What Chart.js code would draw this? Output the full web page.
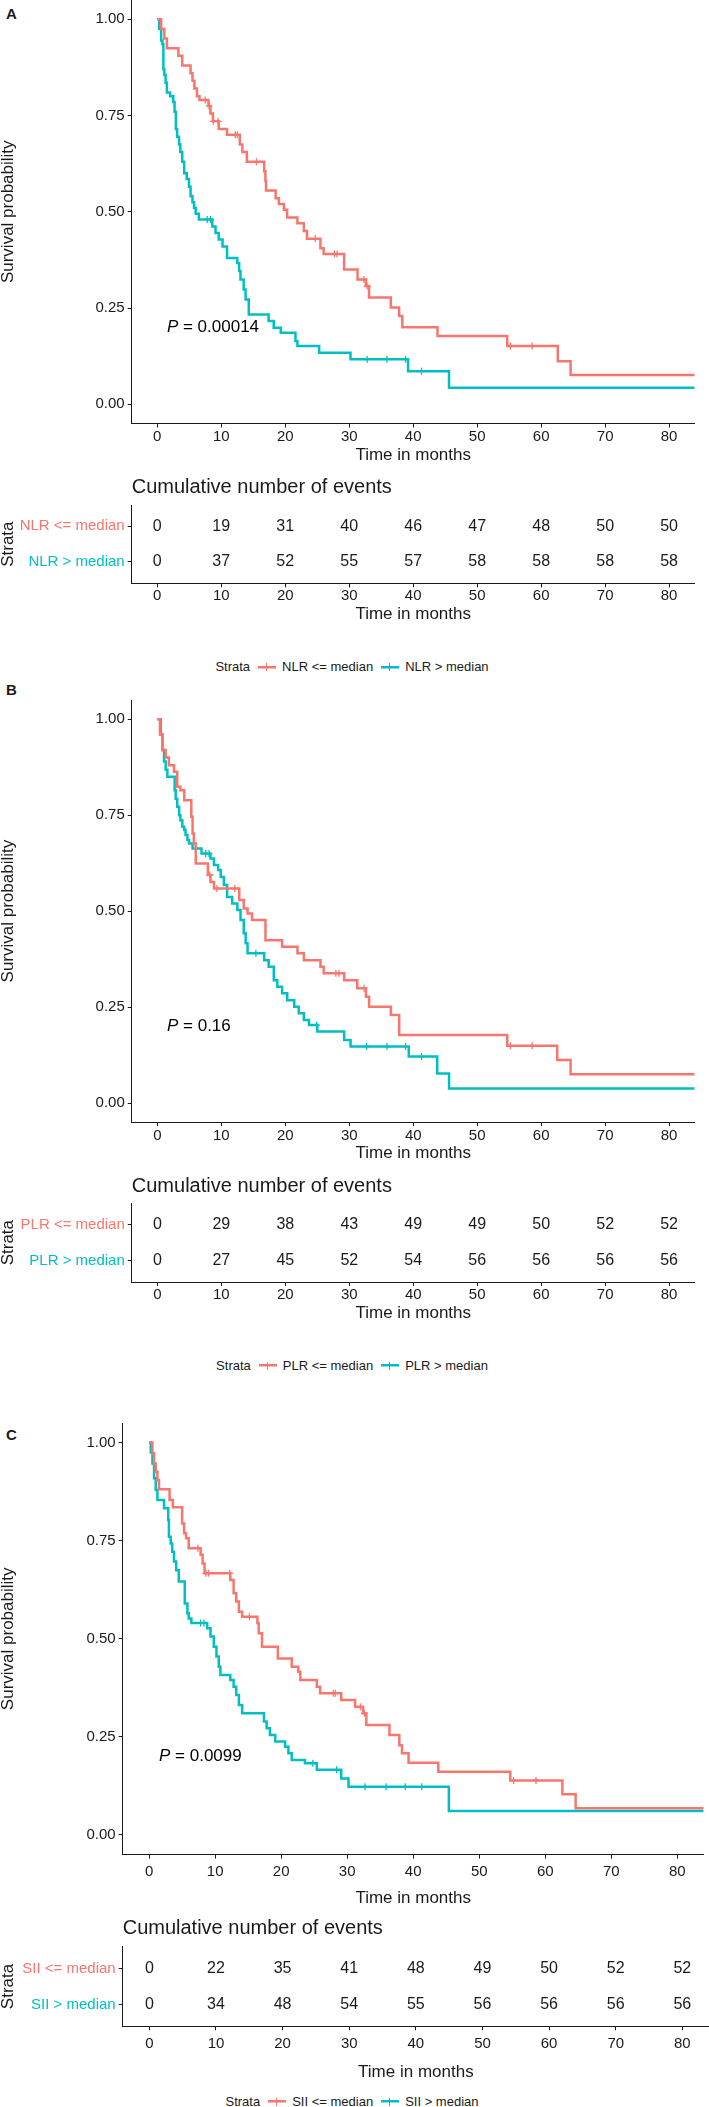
<!DOCTYPE html>
<html>
<head>
<meta charset="utf-8">
<script src="https://cdn.jsdelivr.net/npm/chart.js@4"></script>
<style>
  body { margin: 0; width: 709px; height: 2107px; position: relative; background: #fff; overflow: hidden;
         font-family: "Liberation Sans", Arial, sans-serif; color: #1a1a1a; }
  canvas { position: absolute; left: 0; }
  .letter { position: absolute; left: 6px; font-weight: bold; font-size: 15px; line-height: 18px; }
  .legend { position: absolute; left: 0; width: 704px; text-align: center; font-size: 13px; line-height: 20px; white-space: nowrap; }
  .key { display: inline-block; width: 18px; height: 12px; vertical-align: -2px; margin: 0 6px 0 8px; }
</style>
</head>
<body>
<div class="letter" id="letterA">A</div>
<canvas id="kmA"></canvas><canvas id="tabA"></canvas>
<div class="legend" id="legA"></div>
<div class="letter" id="letterB">B</div>
<canvas id="kmB"></canvas><canvas id="tabB"></canvas>
<div class="legend" id="legB"></div>
<div class="letter" id="letterC">C</div>
<canvas id="kmC"></canvas><canvas id="tabC"></canvas>
<div class="legend" id="legC"></div>

<script>
// ---- data ----
const timeTicks = [0, 10, 20, 30, 40, 50, 60, 70, 80];
const survTicks = [0, 0.25, 0.5, 0.75, 1];

// A: NLR   (time in months, survival probability)
const nlrLow = [[0,1],[0.6,0.975],[1.1,0.95],[1.5,0.925],[3.3,0.905],[3.9,0.88],[5.2,0.86],[5.5,0.84],[5.8,0.82],[6.2,0.8],[6.6,0.79],[8.0,0.775],[8.3,0.755],[8.7,0.735],[9.6,0.715],[10.9,0.7],[12.9,0.675],[13.3,0.655],[14.0,0.63],[16.7,0.605],[16.9,0.58],[17.0,0.555],[18.5,0.535],[19.0,0.52],[19.8,0.505],[20.3,0.485],[21.9,0.47],[22.9,0.45],[23.4,0.43],[25.5,0.405],[26.0,0.39],[29.2,0.35],[31.3,0.324],[32.6,0.307],[33.1,0.277],[36.5,0.251],[37.8,0.229],[38.3,0.2],[43.8,0.177],[54.7,0.151],[62.6,0.112],[64.6,0.076],[84,0.076]];
const nlrLowCensor = [7.5, 8.1, 8.75, 9.5, 12.2, 12.5, 15.5, 24.7, 27.7, 28.1, 32.3, 32.8, 55.2, 58.6];
const nlrHigh = [[0,1],[0.3,0.975],[0.6,0.945],[0.8,0.935],[0.95,0.87],[1.1,0.855],[1.3,0.835],[1.5,0.81],[2.0,0.8],[2.5,0.785],[2.7,0.76],[2.9,0.715],[3.1,0.695],[3.4,0.675],[3.6,0.655],[3.9,0.63],[4.2,0.6],[4.6,0.585],[4.95,0.565],[5.2,0.54],[5.5,0.525],[5.75,0.51],[6.0,0.495],[6.5,0.48],[8.6,0.462],[9.1,0.445],[9.6,0.428],[10.2,0.41],[10.9,0.38],[12.5,0.367],[12.8,0.346],[13.0,0.324],[13.5,0.298],[13.8,0.272],[14.3,0.233],[17.4,0.216],[18.2,0.199],[19.3,0.186],[21.6,0.164],[21.9,0.151],[25.3,0.134],[30.2,0.117],[39.2,0.086],[45.6,0.043],[84,0.043]];
const nlrHighCensor = [7.8, 8.3, 32.8, 35.9, 38.8, 41.3];
const nlrLowEvents = [0, 19, 31, 40, 46, 47, 48, 50, 50];
const nlrHighEvents = [0, 37, 52, 55, 57, 58, 58, 58, 58];

// B: PLR
const plrLow = [[0,1],[0.4,0.96],[0.8,0.92],[1.3,0.9],[1.8,0.88],[2.6,0.863],[3.1,0.824],[3.6,0.815],[4.2,0.789],[5.3,0.746],[5.5,0.702],[5.7,0.676],[6.0,0.624],[7.9,0.594],[8.3,0.576],[8.85,0.559],[12.8,0.529],[13.5,0.507],[14.1,0.494],[14.8,0.477],[16.9,0.424],[19.5,0.407],[21.9,0.39],[22.9,0.372],[25.5,0.355],[26.0,0.338],[29.2,0.32],[31.25,0.299],[32.6,0.277],[33.1,0.251],[36.5,0.229],[37.8,0.177],[54.7,0.149],[62.5,0.112],[64.6,0.075],[84,0.075]];
const plrLowCensor = [8.2, 9.3, 12.1, 27.9, 28.4, 32.3, 55.2, 58.6];
const plrHigh = [[0,1],[0.52,0.96],[0.78,0.92],[1.04,0.89],[1.3,0.868],[1.56,0.85],[2.7,0.815],[2.86,0.793],[3.1,0.772],[3.4,0.75],[3.6,0.737],[3.9,0.72],[4.2,0.711],[4.4,0.698],[4.7,0.685],[4.95,0.676],[5.5,0.663],[6.9,0.65],[8.3,0.637],[8.85,0.62],[9.5,0.607],[9.9,0.589],[10.4,0.568],[10.9,0.537],[11.7,0.52],[12.5,0.503],[13.0,0.477],[13.5,0.442],[13.8,0.416],[14.1,0.39],[16.7,0.372],[17.4,0.355],[18.2,0.32],[18.75,0.303],[19.5,0.286],[20.3,0.268],[21.4,0.251],[22.1,0.234],[22.9,0.216],[23.7,0.203],[25.0,0.186],[29.2,0.164],[30.2,0.147],[39.3,0.121],[43.75,0.077],[45.6,0.038],[84,0.038]];
const plrHighCensor = [7.55, 8.07, 15.4, 24.9, 32.7, 35.9, 38.8, 41.3];
const plrLowEvents = [0, 29, 38, 43, 49, 49, 50, 52, 52];
const plrHighEvents = [0, 27, 45, 52, 54, 56, 56, 56, 56];

// C: SII
const siiLow = [[0,1],[0.5,0.973],[0.75,0.947],[1.0,0.926],[1.26,0.905],[1.5,0.881],[3.1,0.854],[3.6,0.835],[5.0,0.794],[5.3,0.769],[5.6,0.756],[6.0,0.731],[7.8,0.714],[8.1,0.692],[8.4,0.667],[12.3,0.65],[12.8,0.616],[13.2,0.595],[13.6,0.569],[14.1,0.556],[16.4,0.54],[16.6,0.514],[17.1,0.48],[19.5,0.45],[21.6,0.429],[22.6,0.416],[22.9,0.395],[25.4,0.378],[25.9,0.361],[29.1,0.344],[31.2,0.327],[32.4,0.31],[32.9,0.28],[36.4,0.255],[37.9,0.229],[38.3,0.208],[39.3,0.184],[43.8,0.161],[54.7,0.139],[62.6,0.104],[64.6,0.068],[84,0.068]];
const siiLowCensor = [7.4, 8.6, 9.0, 12.2, 15.2, 27.9, 28.2, 32.0, 32.6, 55.2, 58.6];
const siiHigh = [[0,1],[0.25,0.975],[0.5,0.947],[0.75,0.909],[1.0,0.879],[1.26,0.854],[2.26,0.833],[2.9,0.803],[3.0,0.76],[3.27,0.743],[3.5,0.722],[3.77,0.697],[4.1,0.675],[4.5,0.646],[5.4,0.59],[5.8,0.565],[6.0,0.552],[6.4,0.54],[8.8,0.527],[9.3,0.506],[9.8,0.48],[10.2,0.455],[10.55,0.429],[10.8,0.408],[12.3,0.395],[12.8,0.378],[13.2,0.357],[13.6,0.331],[14.1,0.31],[17.4,0.289],[17.8,0.272],[18.3,0.255],[19.1,0.238],[20.6,0.225],[21.1,0.208],[21.6,0.191],[23.6,0.183],[25.4,0.166],[29.1,0.144],[30.2,0.123],[45.4,0.061],[84,0.061]];
const siiHighCensor = [7.8, 8.3, 24.8, 28.4, 32.7, 35.9, 38.8, 41.3];
const siiLowEvents = [0, 22, 35, 41, 48, 49, 50, 52, 52];
const siiHighEvents = [0, 34, 48, 54, 55, 56, 56, 56, 56];

const RED = "#F8766D";
const TEAL = "#00BFC4";
const INK = "#1a1a1a";
const FONT = '"Liberation Sans", Arial, sans-serif';
Chart.defaults.font.family = FONT;
Chart.defaults.color = INK;

// survival value of a step curve at time t (for placing censor marks)
function survAt(curve, t) {
  let s = curve[0][1];
  curve.forEach(([ct, cs]) => { if (ct <= t) s = cs; });
  return s;
}

function axisX(bottomPad, tickPad, height) {
  return {
    type: "linear", min: -4, max: 84,
    afterBuildTicks: (s) => { s.ticks = timeTicks.map((v) => ({ value: v })); },
    afterFit: (s) => { s.height = height; },
    grid: { drawOnChartArea: false, drawTicks: true, tickLength: 4, color: INK, lineWidth: 1 },
    border: { display: true, color: INK, width: 1 },
    ticks: { font: { size: 15, lineHeight: 1.2 }, color: INK, padding: tickPad, maxRotation: 0, autoSkip: false },
    title: { display: true, text: "Time in months", color: INK, font: { size: 17, lineHeight: 1.2 }, padding: { top: 0, bottom: bottomPad } },
  };
}

// P value text, placed in data units
const pvalPlugin = {
  id: "pval",
  afterDraw(chart, args, opts) {
    const ctx = chart.ctx;
    const x = chart.scales.x.getPixelForValue(1.5);
    const y = chart.scales.y.getPixelForValue(0.2);
    ctx.save();
    ctx.fillStyle = "#000";
    ctx.textBaseline = "middle";
    ctx.textAlign = "left";
    ctx.font = "italic 17px " + FONT;
    ctx.fillText("P", x, y);
    const w = ctx.measureText("P").width;
    ctx.font = "17px " + FONT;
    ctx.fillText(" = " + opts.text, x + w, y);
    ctx.restore();
  },
};

// numbers of the risk table, one per point
const countPlugin = {
  id: "counts",
  afterDatasetsDraw(chart) {
    const ctx = chart.ctx;
    ctx.save();
    ctx.fillStyle = INK;
    ctx.font = "16px " + FONT;
    ctx.textAlign = "center";
    ctx.textBaseline = "middle";
    chart.data.datasets.forEach((ds, di) => {
      chart.getDatasetMeta(di).data.forEach((pt, i) => {
        ctx.fillText(String(ds.counts[i]), pt.x, pt.y);
      });
    });
    ctx.restore();
  },
};

function kmChart(id, p) {
  const canvas = document.getElementById(id);
  const top = p.areaTop - 12;
  const bottom = p.xlabelY + 12;
  canvas.width = 709;
  canvas.height = Math.round(bottom - top);
  canvas.style.top = top + "px";

  const curveSet = (curve, censor, color) => [
    {
      data: curve.map(([x, y]) => ({ x, y })),
      borderColor: color, borderWidth: 2.5, stepped: true, pointRadius: 0, fill: false,
    },
    {
      data: censor.map((t) => ({ x: t, y: survAt(curve, t) })),
      showLine: false, pointStyle: "cross", pointRadius: 3.5, pointBorderWidth: 1.3,
      pointBorderColor: color, pointBackgroundColor: color,
    },
  ];

  new Chart(canvas.getContext("2d"), {
    type: "line",
    data: {
      datasets: [...curveSet(p.low, p.lowCensor, RED), ...curveSet(p.high, p.highCensor, TEAL)],
    },
    options: {
      responsive: false, animation: false, events: [],
      layout: { padding: { top: 12, left: 0, right: 709 - p.areaRight, bottom: 0 } },
      plugins: { legend: { display: false }, tooltip: { enabled: false }, pval: { text: p.pval } },
      scales: {
        x: axisX(12 - 10.2, p.tickY - p.areaBottom - 13, bottom - p.areaBottom),
        y: {
          type: "linear", min: -0.05, max: 1.05,
          afterBuildTicks: (s) => { s.ticks = survTicks.map((v) => ({ value: v })); },
          afterFit: (s) => { s.width = p.areaLeft; },
          grid: { drawOnChartArea: false, drawTicks: true, tickLength: 4, color: INK },
          border: { display: true, color: INK, width: 1 },
          ticks: { font: { size: 15 }, color: INK, padding: 3, callback: (v) => v.toFixed(2) },
          title: { display: true, text: "Survival probability", color: INK, font: { size: 17, lineHeight: 1 }, padding: 0 },
        },
      },
    },
    plugins: [pvalPlugin],
  });
}

function tableChart(id, p) {
  const canvas = document.getElementById(id);
  const top = p.titleY - 17;
  const bottom = p.xlabelY + 12;
  canvas.width = 709;
  canvas.height = Math.round(bottom - top);
  canvas.style.top = top + "px";

  const row = (y, counts) => ({
    data: timeTicks.map((t) => ({ x: t, y })),
    counts: counts, showLine: false, pointRadius: 0,
  });

  new Chart(canvas.getContext("2d"), {
    type: "line",
    data: { datasets: [row(2, p.lowEvents), row(1, p.highEvents)] },
    options: {
      responsive: false, animation: false, events: [],
      layout: { padding: { top: 0, left: 0, right: 709 - p.areaRight, bottom: 0 } },
      plugins: {
        legend: { display: false }, tooltip: { enabled: false },
        title: {
          display: true, text: "Cumulative number of events", align: "start", fullSize: false,
          color: INK, font: { size: 20, weight: "normal", lineHeight: 1.2 },
          padding: { top: 5, bottom: p.areaTop - top - 5 - 24 },
        },
      },
      scales: {
        x: axisX(12 - 10.2, p.tickY - p.areaBottom - 13, bottom - p.areaBottom),
        y: {
          type: "linear", min: 0.4, max: 2.6,
          afterBuildTicks: (s) => { s.ticks = [{ value: 1 }, { value: 2 }]; },
          afterFit: (s) => { s.width = p.areaLeft; },
          grid: { drawOnChartArea: false, drawTicks: true, tickLength: 4, color: INK },
          border: { display: true, color: INK, width: 1 },
          ticks: {
            font: { size: 15 }, padding: 3,
            color: (c) => (c.tick && c.tick.value === 2 ? RED : TEAL),
            callback: (v) => (v === 2 ? p.names[0] : p.names[1]),
          },
          title: { display: true, text: "Strata", color: INK, font: { size: 17, lineHeight: 1 }, padding: 0 },
        },
      },
    },
    plugins: [countPlugin],
  });
}

function legend(id, y, names) {
  const el = document.getElementById(id);
  el.style.top = (y - 10) + "px";
  const key = (c) =>
    `<span class="key" style="background:linear-gradient(${c},${c}) center/18px 2.5px no-repeat,linear-gradient(${c},${c}) center/1.4px 8px no-repeat"></span>`;
  el.innerHTML = "Strata" + key(RED) + names[0].replace("<", "&lt;") + key(TEAL) + names[1].replace(">", "&gt;");
}

function panel(letter, p) {
  document.getElementById("letter" + letter).style.top = (p.letterY - 9) + "px";
  kmChart("km" + letter, p.km);
  tableChart("tab" + letter, p.table);
  legend("leg" + letter, p.legendY, p.table.names);
}

panel("A", {
  letterY: 14, legendY: 667,
  km: { areaTop: 0, areaBottom: 423.5, areaLeft: 131.7, areaRight: 694.7, tickY: 436.7, xlabelY: 455,
        low: nlrLow, lowCensor: nlrLowCensor, high: nlrHigh, highCensor: nlrHighCensor, pval: "0.00014" },
  table: { titleY: 487, areaTop: 505, areaBottom: 583.3, areaLeft: 131.7, areaRight: 694.7, tickY: 596, xlabelY: 614,
           names: ["NLR <= median", "NLR > median"], lowEvents: nlrLowEvents, highEvents: nlrHighEvents },
});

panel("B", {
  letterY: 689.5, legendY: 1365.7,
  km: { areaTop: 699.8, areaBottom: 1122.2, areaLeft: 131.8, areaRight: 694.7, tickY: 1136, xlabelY: 1153,
        low: plrLow, lowCensor: plrLowCensor, high: plrHigh, highCensor: plrHighCensor, pval: "0.16" },
  table: { titleY: 1186, areaTop: 1203.3, areaBottom: 1282.3, areaLeft: 131.8, areaRight: 694.7, tickY: 1295, xlabelY: 1313.3,
           names: ["PLR <= median", "PLR > median"], lowEvents: plrLowEvents, highEvents: plrHighEvents },
});

panel("C", {
  letterY: 1435, legendY: 2101.7,
  km: { areaTop: 1423, areaBottom: 1854.6, areaLeft: 122.7, areaRight: 709, tickY: 1871.7, xlabelY: 1898,
        low: siiLow, lowCensor: siiLowCensor, high: siiHigh, highCensor: siiHighCensor, pval: "0.0099" },
  table: { titleY: 1928, areaTop: 1946.7, areaBottom: 2026, areaLeft: 122.7, areaRight: 709, tickY: 2043.3, xlabelY: 2071.7,
           names: ["SII <= median", "SII > median"], lowEvents: siiLowEvents, highEvents: siiHighEvents },
});
</script>
</body>
</html>
